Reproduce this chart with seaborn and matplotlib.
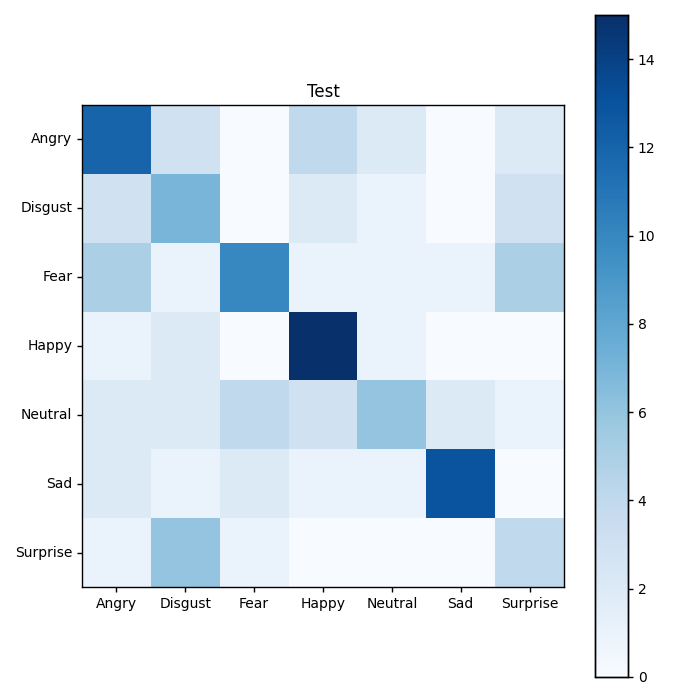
import numpy as np
import pandas as pd
import matplotlib
matplotlib.use("Agg")
import matplotlib.pyplot as plt
import seaborn as sns

labels = ["Angry", "Disgust", "Fear", "Happy", "Neutral", "Sad", "Surprise"]
angry = [12, 3, 0, 4, 2, 0, 2]
disgust = [3, 7, 0, 2, 1, 0, 3]
fear = [5, 1, 10, 1, 1, 1, 5]
happy = [1, 2, 0, 15, 1, 0, 0]
neutral = [2, 2, 4, 3, 6, 2, 1]
sad = [2, 1, 2, 1, 1, 13, 0]
surprise = [1, 6, 1, 0, 0, 0, 4]

cm = pd.DataFrame([angry, disgust, fear, happy, neutral, sad, surprise],
                  index=labels, columns=labels)

fig = plt.figure(figsize=(7, 7), dpi=100)
ax = fig.add_axes([82 / 700, 113 / 700, 482 / 700, 482 / 700])
cax = fig.add_axes([595 / 700, 23 / 700, 33 / 700, 662 / 700])

sns.heatmap(cm, cmap="Blues", vmin=0, vmax=15, ax=ax, cbar_ax=cax,
            square=True, linewidths=0)

ax.set_title("Test", fontsize=12)
for s in ax.spines.values():
    s.set_visible(True)
    s.set_linewidth(1)
    s.set_color("black")
ax.tick_params(length=3.5, width=1, labelsize=10)
ax.set_xticklabels(labels, rotation=0)
ax.set_yticklabels(labels, rotation=0)
ax.set_xlabel("")
ax.set_ylabel("")

cax.set_yticks(range(0, 15, 2))
cax.tick_params(length=3.5, width=1, labelsize=10)
for s in cax.spines.values():
    s.set_visible(True)
    s.set_linewidth(1)
    s.set_color("black")

fig.savefig("out.png", dpi=100)
